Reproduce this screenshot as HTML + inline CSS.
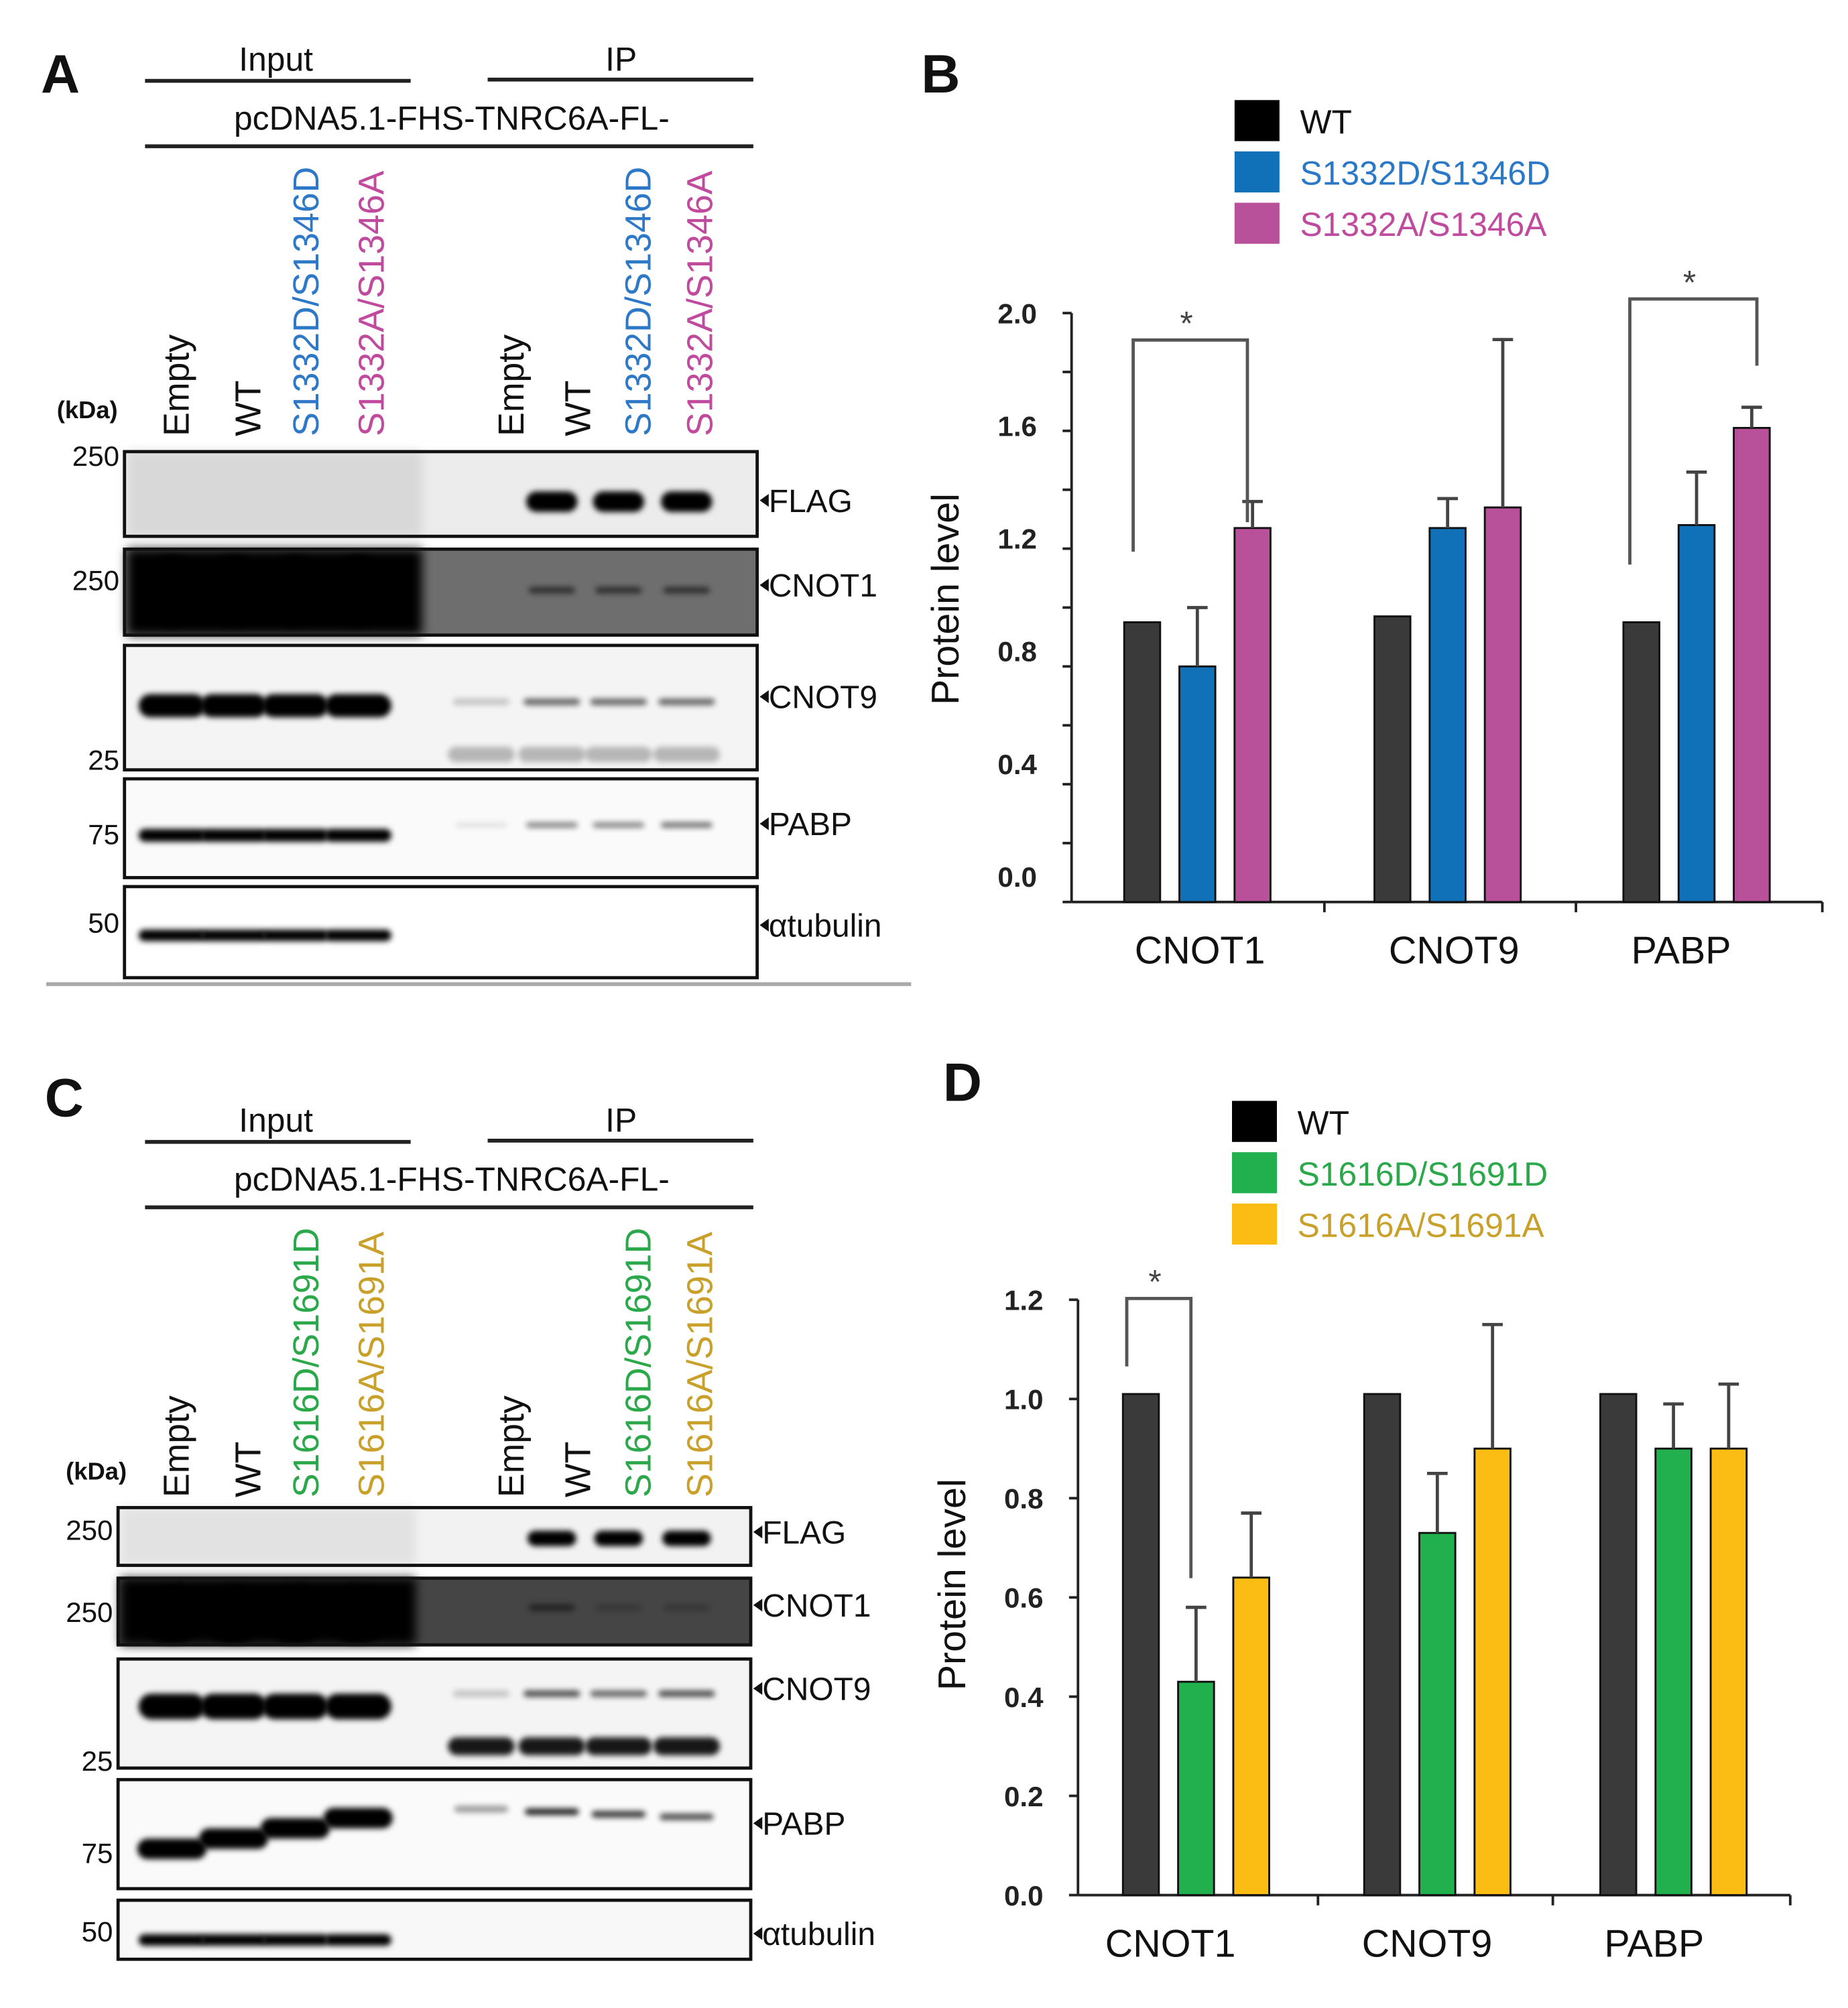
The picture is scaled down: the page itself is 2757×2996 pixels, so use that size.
<!DOCTYPE html>
<html><head><meta charset="utf-8"><style>
html,body{margin:0;padding:0;background:#fff;}
svg{display:block;font-family:"Liberation Sans",sans-serif;}
</style></head><body>
<svg id="fig" xmlns="http://www.w3.org/2000/svg" width="2757" height="2996" viewBox="0 0 1440 1565" preserveAspectRatio="none">
<defs>
<filter id="blur2" x="-50%" y="-100%" width="200%" height="300%"><feGaussianBlur stdDeviation="2.2"/></filter>
<filter id="blur4" x="-50%" y="-100%" width="200%" height="300%"><feGaussianBlur stdDeviation="4"/></filter>
</defs>
<g id="root"></g>
</svg>
<script>
// ===== Chart B data =====
const categoriesB = ["CNOT1", "CNOT9", "PABP"];
const seriesNamesB = ["WT", "S1332D/S1346D", "S1332A/S1346A"];
const wtB = [0.95, 0.97, 0.95];
const dmutB = [0.80, 1.27, 1.28];
const amutB = [1.27, 1.34, 1.61];
const wtErrB = [0, 0, 0];
const dmutErrB = [0.20, 0.10, 0.18];
const amutErrB = [0.09, 0.57, 0.07];
const ticksB = ["0.0", "0.4", "0.8", "1.2", "1.6", "2.0"];
// ===== Chart D data =====
const categoriesD = ["CNOT1", "CNOT9", "PABP"];
const seriesNamesD = ["WT", "S1616D/S1691D", "S1616A/S1691A"];
const wtD = [1.01, 1.01, 1.01];
const dmutD = [0.43, 0.73, 0.90];
const amutD = [0.64, 0.90, 0.90];
const wtErrD = [0, 0, 0];
const dmutErrD = [0.15, 0.12, 0.09];
const amutErrD = [0.13, 0.25, 0.13];
const ticksD = ["0.0", "0.2", "0.4", "0.6", "0.8", "1.0", "1.2"];

const NS = "http://www.w3.org/2000/svg";
const root = document.getElementById("root");
function mk(tag, attrs, parent, text) {
  const e = document.createElementNS(NS, tag);
  for (const k in attrs) e.setAttribute(k, attrs[k]);
  if (text !== undefined) e.textContent = text;
  (parent || root).appendChild(e);
  return e;
}
function grp(name, parent) {
  const g = mk("g", {}, parent);
  
  
  return g;
}

// ===== Bar charts =====
function barChart(o) {
  const g = grp(o.name);
  const y = v => o.y0 - (v / o.ymax) * (o.y0 - o.ytop);
  const ya = mk("line", {x1:o.ax, y1:o.ytop, x2:o.ax, y2:o.y0, stroke:"#222", "stroke-width":2}, g);
  
  
  const xa = mk("line", {x1:o.ax, y1:o.y0, x2:o.axEnd, y2:o.y0, stroke:"#222", "stroke-width":2}, g);
  
  
  const nT = o.ticks.length;
  const tStep = o.ymax / (nT - 1);
  for (let i = 0; i < nT; i++) {
    const v = i * tStep;
    mk("line", {x1:o.ax - 7, y1:y(v), x2:o.ax, y2:y(v), stroke:"#222", "stroke-width":2}, g);
    if (o.minor && i < nT - 1) mk("line", {x1:o.ax - 7, y1:y(v + tStep/2), x2:o.ax, y2:y(v + tStep/2), stroke:"#222", "stroke-width":2}, g);
    const ly = o.y0 - o.labOff - (o.y0 - o.labOff - o.ytop) * v / o.ymax;
    const t = mk("text", {x:o.ax - 27, y:ly + 8, "font-size":22, "font-weight":"bold", "text-anchor":"end", fill:"#222"}, g, o.ticks[i]);
    
    
  }
  const yl = mk("text", {x:0, y:0, "font-size":30, "text-anchor":"middle", fill:"#111",
    transform:`translate(${o.ax - 88},${o.ylabY}) rotate(-90)`}, g, "Protein level");
  
  
  const colors = o.colors;
  const series = o.series, errs = o.errs;
  for (let c = 0; c < o.cats.length; c++) {
    for (let s = 0; s < 3; s++) {
      const bx = o.groupX[c] + s * o.barGap;
      const v = series[s][c];
      const r = mk("rect", {x:bx, y:y(v), width:o.bw, height:o.y0 - y(v), fill:colors[s], stroke:"#111", "stroke-width":1.5}, g);
      
      
      const e = errs[s][c];
      if (e > 0) {
        const cx = bx + o.bw / 2;
        mk("line", {x1:cx, y1:y(v), x2:cx, y2:y(v + e), stroke:"#444", "stroke-width":2.5}, g);
        mk("line", {x1:cx - 8, y1:y(v + e), x2:cx + 8, y2:y(v + e), stroke:"#444", "stroke-width":2.5}, g);
      }
    }
    const lab = mk("text", {x:o.labX[c], y:o.y0 + 48, "font-size":30, "text-anchor":"middle", fill:"#111"}, g, o.cats[c]);
    
    
  }
  for (const tx of o.catTicks) mk("line", {x1:tx, y1:o.y0, x2:tx, y2:o.y0 + 8, stroke:"#222", "stroke-width":2}, g);
  for (const b of o.brackets) {
    const bg = grp('significance-bracket', g);
    mk("polyline", {points:`${b.x1},${b.yl} ${b.x1},${b.top} ${b.x2},${b.top} ${b.x2},${b.yr}`, fill:"none", stroke:"#555", "stroke-width":2.5}, bg);
    mk("text", {x:(b.x1 + b.x2)/2 - 3, y:b.top - 4, "font-size":26, "text-anchor":"middle", fill:"#444"}, bg, "*");
  }
  const lg = grp('legend', g);
  const lcolors = o.legColors || colors;
  for (let s = 0; s < 3; s++) {
    const ly = o.legY + s * 40;
    const ent = grp('legend-entry', lg);
    mk("rect", {x:o.legX, y:ly, width:35, height:32, fill:lcolors[s]}, ent);
    mk("text", {x:o.legX + 51, y:ly + 26, "font-size":26, fill:o.textColors[s]}, ent, o.names[s]);
  }
}

barChart({
  name:"chart-b", ax:835, axEnd:1420, y0:703, ytop:244, ymax:2.0, ticks:ticksB, minor:true, labOff:20,
  ylabY:467, cats:categoriesB, series:[wtB, dmutB, amutB], errs:[wtErrB, dmutErrB, amutErrB],
  colors:["#3a3a3a", "#1070b8", "#b8509a"], legColors:["#000", "#1070b8", "#b8509a"],
  textColors:["#111", "#2a78c6", "#c04a9e"], names:seriesNamesB,
  groupX:[876, 1071, 1265], barGap:43, bw:28, labX:[935, 1133, 1310], catTicks:[1032, 1228, 1420],
  brackets:[{x1:883, x2:972, top:265, yl:430, yr:407}, {x1:1270, x2:1369, top:233, yl:440, yr:285}],
  legX:962, legY:78
});
barChart({
  name:"chart-d", ax:840, axEnd:1395, y0:1477, ytop:1013, ymax:1.2, ticks:ticksD, minor:false, labOff:0,
  ylabY:1235, cats:categoriesD, series:[wtD, dmutD, amutD], errs:[wtErrD, dmutErrD, amutErrD],
  colors:["#3a3a3a", "#22b04f", "#fbbd14"], legColors:["#000", "#22b04f", "#fbbd14"],
  textColors:["#111", "#2aa84a", "#c8a02a"], names:seriesNamesD,
  groupX:[875, 1063, 1247], barGap:43, bw:28, labX:[912, 1112, 1289], catTicks:[1027, 1210, 1395],
  brackets:[{x1:878, x2:928, top:1012, yl:1065, yr:1230}],
  legX:960, legY:858
});
for (const [t, x, yy] of [["A",47,72],["B",733,72],["C",50,870],["D",750,858]]) {
  const e = mk("text", {x:x, y:yy, "font-size":42, "font-weight":"bold", "text-anchor":"middle", fill:"#111"}, root, t);
  
  
}

// ===== Western blots =====
function blotPanel(p) {
  const g = grp(p.name);
  const t1 = mk("text", {x:215, y:p.top + 10, "font-size":26, "text-anchor":"middle", fill:"#111"}, g, "Input");
   
  const t2 = mk("text", {x:484, y:p.top + 10, "font-size":26, "text-anchor":"middle", fill:"#111"}, g, "IP");
   
  mk("line", {x1:113, y1:p.top + 18, x2:320, y2:p.top + 18, stroke:"#222", "stroke-width":3}, g);
  mk("line", {x1:380, y1:p.top + 17, x2:587, y2:p.top + 17, stroke:"#222", "stroke-width":3}, g);
  const t3 = mk("text", {x:352, y:p.top + 56, "font-size":26, "text-anchor":"middle", fill:"#111"}, g, "pcDNA5.1-FHS-TNRC6A-FL-");
   
  mk("line", {x1:113, y1:p.top + 69, x2:587, y2:p.top + 69, stroke:"#222", "stroke-width":3}, g);
  const lanes = [["Empty","#111",137],["WT","#111",193],[p.d,p.dc,238],[p.a,p.ac,289],["Empty","#111",398],["WT","#111",450],[p.d,p.dc,497],[p.a,p.ac,545]];
  for (const [txt, col, lx] of lanes) {
    const t = mk("text", {x:0, y:0, "font-size":28, fill:col, transform:`translate(${lx + 10},${p.laneBottom}) rotate(-90)`}, g, txt);
    
    
  }
  mk("text", {x:p.kdaX, y:p.laneBottom - 14, "font-size":19, "font-weight":"bold", "text-anchor":"middle", fill:"#111"}, g, "(kDa)");
  const inL = [134, 182, 230, 279], ipL = [375, 430, 482, 535];
  for (const b of p.blots) {
    const bg = grp('blot-' + b.label.toLowerCase(), g);
    const w = p.bx2 - p.bx1;
    mk("rect", {x:p.bx1, y:b.y1, width:w, height:b.y2 - b.y1, fill:b.bg}, bg);
    if (b.bgL) mk("rect", {x:p.bx1 + 2, y:b.y1, width:230, height:b.y2 - b.y1, fill:b.bgL, filter:"url(#blur4)"}, bg);
    for (const bd of b.bands) {
      const L = bd.ip ? ipL : inL;
      for (let i = 0; i < 4; i++) {
        const op = bd.op[i];
        if (op <= 0) continue;
        const dy = bd.slope ? bd.slope * i : 0;
        mk("rect", {x:L[i] - bd.w/2, y:bd.y - bd.h/2 + dy, width:bd.w, height:bd.h, rx:bd.h/2, fill:"#000", opacity:op, filter:"url(#blur2)"}, bg);
      }
    }
    mk("rect", {x:p.bx1, y:b.y1, width:w, height:b.y2 - b.y1, fill:"none", stroke:"#111", "stroke-width":2.5}, bg);
    const ay = b.ay;
    mk("polygon", {points:`${p.bx2 + 2},${ay} ${p.bx2 + 9},${ay - 5} ${p.bx2 + 9},${ay + 5}`, fill:"#111"}, bg);
    const lt = mk("text", {x:p.bx2 + 9, y:ay + 9, "font-size":25, fill:"#111"}, bg, b.label);
    
    
    if (b.mw) {
      const mt = mk("text", {x:p.bx1 - 4, y:b.mwY, "font-size":22, "text-anchor":"end", fill:"#111"}, bg, b.mw);
      
      
    }
  }
}
blotPanel({
  name:"blot-panel-a", top:45, laneBottom:340, kdaX:68, d:"S1332D/S1346D", dc:"#2e78c8", a:"S1332A/S1346A", ac:"#c04a9e",
  bx1:97, bx2:590,
  blots:[
    {label:"FLAG", y1:352, y2:418, ay:390, bg:"#ececec", bgL:"#d8d8d8", mw:"250", mwY:363,
     bands:[{ip:true, y:391, w:40, h:16, op:[0, 1, 1, 1]}]},
    {label:"CNOT1", y1:428, y2:495, ay:456, bg:"#6e6e6e", bgL:"#000", mw:"250", mwY:460,
     bands:[{ip:false, y:460, w:50, h:55, op:[1,1,1,1]}, {ip:true, y:460, w:36, h:5, op:[0,0.6,0.6,0.6]}]},
    {label:"CNOT9", y1:503, y2:600, ay:543, bg:"#f4f4f4", mw:"25", mwY:600,
     bands:[{ip:false, y:550, w:52, h:18, op:[1,1,1,1]}, {ip:true, y:547, w:44, h:5, op:[0.2,0.6,0.6,0.6]}, {ip:true, y:588, w:52, h:12, op:[0.25,0.25,0.25,0.25]}]},
    {label:"PABP", y1:607, y2:684, ay:642, bg:"#fafafa", mw:"75", mwY:658,
     bands:[{ip:false, y:651, w:52, h:10, op:[1,1,1,1]}, {ip:true, y:643, w:40, h:4, op:[0.1,0.5,0.5,0.6]}]},
    {label:"αtubulin", y1:691, y2:762, ay:721, bg:"#fff", mw:"50", mwY:727,
     bands:[{ip:false, y:729, w:52, h:9, op:[1,1,1,1]}]}
  ]
});
blotPanel({
  name:"blot-panel-c", top:872, laneBottom:1167, kdaX:75, d:"S1616D/S1691D", dc:"#2aa84a", a:"S1616A/S1691A", ac:"#c8a02a",
  bx1:92, bx2:585,
  blots:[
    {label:"FLAG", y1:1175, y2:1220, ay:1194, bg:"#f2f2f2", bgL:"#e2e2e2", mw:"250", mwY:1200,
     bands:[{ip:true, y:1199, w:38, h:12, op:[0, 1, 1, 1]}]},
    {label:"CNOT1", y1:1230, y2:1282, ay:1251, bg:"#454545", bgL:"#000", mw:"250", mwY:1264,
     bands:[{ip:false, y:1258, w:50, h:45, op:[1,1,1,1]}, {ip:true, y:1253, w:36, h:5, op:[0,0.5,0.2,0.2]}]},
    {label:"CNOT9", y1:1293, y2:1378, ay:1316, bg:"#f4f4f4", mw:"25", mwY:1380,
     bands:[{ip:false, y:1330, w:52, h:20, op:[1,1,1,1]}, {ip:true, y:1320, w:44, h:5, op:[0.2,0.7,0.6,0.7]}, {ip:true, y:1361, w:52, h:14, op:[0.9,0.9,0.9,0.9]}]},
    {label:"PABP", y1:1387, y2:1472, ay:1421, bg:"#fafafa", mw:"75", mwY:1452,
     bands:[{ip:false, y:1441, w:54, h:16, slope:-8, op:[1,1,1,1]}, {ip:true, y:1410, w:42, h:5, slope:2, op:[0.4,0.9,0.8,0.7]}]},
    {label:"αtubulin", y1:1481, y2:1527, ay:1507, bg:"#f8f8f8", mw:"50", mwY:1513,
     bands:[{ip:false, y:1512, w:52, h:9, op:[1,1,1,1]}]}
  ]
});
const sep = mk("line", {x1:36, y1:767, x2:710, y2:767, stroke:"#aaa", "stroke-width":3});


</script>
</body></html>
